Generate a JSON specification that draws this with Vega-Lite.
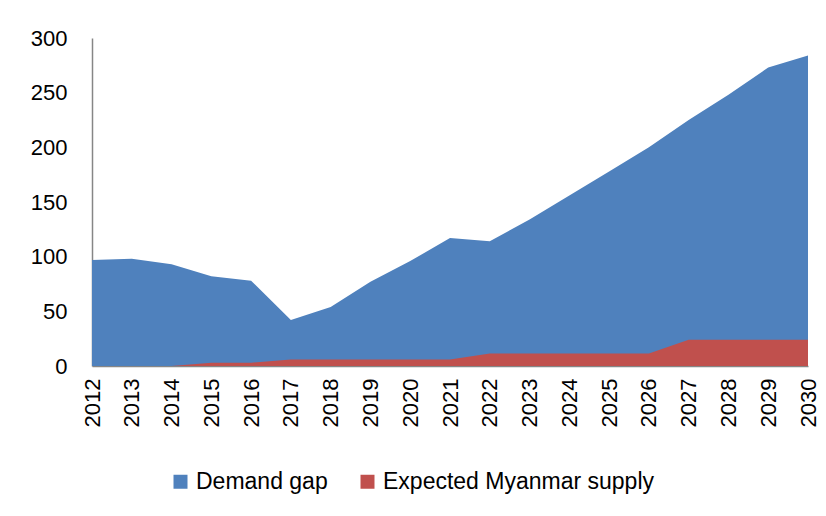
{
  "$schema": "https://vega.github.io/schema/vega-lite/v6.json",
  "autosize": {"type": "none"},
  "width": 716,
  "height": 328,
  "padding": {"left": 92, "top": 38, "right": 18, "bottom": 150},
  "background": "white",
  "config": {
    "view": {"stroke": null},
    "font": "Liberation Sans"
  },
  "data": {
    "values": [
      {"year": "2012", "series": "Demand gap", "value": 97},
      {"year": "2013", "series": "Demand gap", "value": 98},
      {"year": "2014", "series": "Demand gap", "value": 93},
      {"year": "2015", "series": "Demand gap", "value": 82},
      {"year": "2016", "series": "Demand gap", "value": 78},
      {"year": "2017", "series": "Demand gap", "value": 42},
      {"year": "2018", "series": "Demand gap", "value": 54},
      {"year": "2019", "series": "Demand gap", "value": 77},
      {"year": "2020", "series": "Demand gap", "value": 96},
      {"year": "2021", "series": "Demand gap", "value": 117},
      {"year": "2022", "series": "Demand gap", "value": 114},
      {"year": "2023", "series": "Demand gap", "value": 134},
      {"year": "2024", "series": "Demand gap", "value": 156},
      {"year": "2025", "series": "Demand gap", "value": 178},
      {"year": "2026", "series": "Demand gap", "value": 200},
      {"year": "2027", "series": "Demand gap", "value": 225},
      {"year": "2028", "series": "Demand gap", "value": 248},
      {"year": "2029", "series": "Demand gap", "value": 273},
      {"year": "2030", "series": "Demand gap", "value": 284},
      {"year": "2012", "series": "Expected Myanmar supply", "value": 0},
      {"year": "2013", "series": "Expected Myanmar supply", "value": 0},
      {"year": "2014", "series": "Expected Myanmar supply", "value": 0},
      {"year": "2015", "series": "Expected Myanmar supply", "value": 3},
      {"year": "2016", "series": "Expected Myanmar supply", "value": 3},
      {"year": "2017", "series": "Expected Myanmar supply", "value": 6},
      {"year": "2018", "series": "Expected Myanmar supply", "value": 6},
      {"year": "2019", "series": "Expected Myanmar supply", "value": 6},
      {"year": "2020", "series": "Expected Myanmar supply", "value": 6},
      {"year": "2021", "series": "Expected Myanmar supply", "value": 6},
      {"year": "2022", "series": "Expected Myanmar supply", "value": 11.5},
      {"year": "2023", "series": "Expected Myanmar supply", "value": 11.5},
      {"year": "2024", "series": "Expected Myanmar supply", "value": 11.5},
      {"year": "2025", "series": "Expected Myanmar supply", "value": 11.5},
      {"year": "2026", "series": "Expected Myanmar supply", "value": 11.5},
      {"year": "2027", "series": "Expected Myanmar supply", "value": 24},
      {"year": "2028", "series": "Expected Myanmar supply", "value": 24},
      {"year": "2029", "series": "Expected Myanmar supply", "value": 24},
      {"year": "2030", "series": "Expected Myanmar supply", "value": 24}
    ]
  },
  "mark": {"type": "area", "opacity": 1},
  "encoding": {
    "x": {
      "field": "year",
      "type": "ordinal",
      "scale": {"type": "point", "padding": 0},
      "axis": {
        "title": null,
        "labelAngle": -90,
        "labelAlign": "right",
        "labelBaseline": "middle",
        "labelFontSize": 22,
        "labelColor": "#000000",
        "labelPadding": 12,
        "ticks": false,
        "domainColor": "#868686",
        "domainWidth": 1.5
      }
    },
    "y": {
      "field": "value",
      "type": "quantitative",
      "stack": null,
      "scale": {"domain": [0, 300], "nice": false},
      "axis": {
        "title": null,
        "values": [0, 50, 100, 150, 200, 250, 300],
        "grid": false,
        "ticks": false,
        "labelFontSize": 22,
        "labelColor": "#000000",
        "labelPadding": 25,
        "domainColor": "#868686",
        "domainWidth": 1.5
      }
    },
    "color": {
      "field": "series",
      "type": "nominal",
      "scale": {
        "domain": ["Demand gap", "Expected Myanmar supply"],
        "range": ["#4F81BD", "#C0504D"]
      },
      "legend": {
        "title": null,
        "orient": "none",
        "direction": "horizontal",
        "legendX": 77,
        "legendY": 432,
        "symbolType": "square",
        "symbolSize": 196,
        "symbolOpacity": 1,
        "symbolStrokeWidth": 0,
        "labelFontSize": 23,
        "labelColor": "#000000",
        "labelOffset": 4,
        "labelLimit": 0,
        "columnPadding": 28
      }
    },
    "order": {"field": "series"}
  }
}
